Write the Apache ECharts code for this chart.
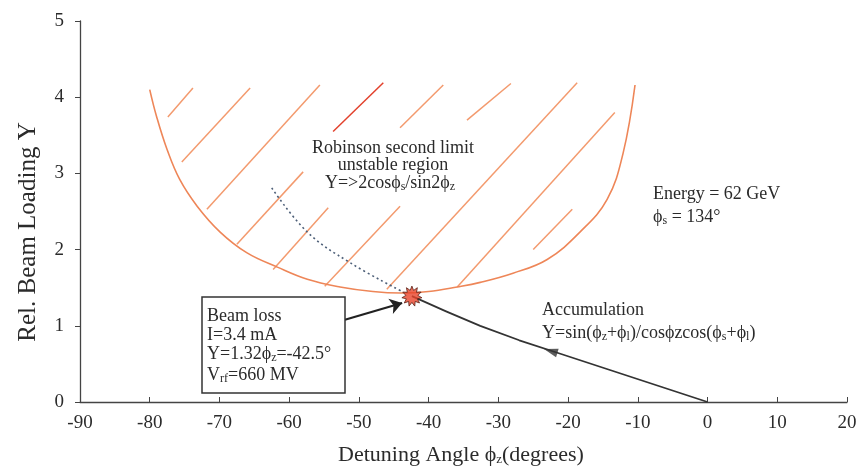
<!DOCTYPE html>
<html><head><meta charset="utf-8">
<script src="https://cdn.jsdelivr.net/npm/echarts@6/dist/echarts.min.js"></script>
<style>html,body{margin:0;padding:0;background:#fff}#c{width:861px;height:468px}</style>
</head><body><div id="c"></div>
<script>
// ---- data ----
const xTickValues = [-90,-80,-70,-60,-50,-40,-30,-20,-10,0,10,20];
const yTickValues = [0,1,2,3,4,5];

// Robinson second limit boundary (orange U curve)
const robinsonLimit = [
  [-80.0,4.10],[-79.0,3.74],[-77.5,3.31],[-75.7,2.92],[-73.2,2.57],[-69.9,2.23],
  [-66.1,1.96],[-61.7,1.77],[-57.4,1.61],[-52.7,1.51],[-48.0,1.45],[-44.0,1.43],
  [-40.0,1.45],[-35.9,1.51],[-32.6,1.57],[-27.9,1.69],[-23.0,1.87],[-18.3,2.23],
  [-14.4,2.66],[-12.1,3.27],[-10.4,4.16]
];
// hatching of the unstable region (segment end points)
const hatchSegments = [
  [[-77.4,3.74],[-73.8,4.12]],
  [[-75.4,3.15],[-65.6,4.12]],
  [[-71.8,2.53],[-55.6,4.16]],
  [[-67.5,2.07],[-58.0,3.02]],
  [[-62.3,1.74],[-54.4,2.55]],
  [[-44.1,3.60],[-37.9,4.16]],
  [[-54.9,1.52],[-44.1,2.57]],
  [[-34.5,3.70],[-28.2,4.18]],
  [[-46.0,1.48],[-18.7,4.19]],
  [[-35.9,1.51],[-13.3,3.80]],
  [[-25.0,2.00],[-19.4,2.53]]
];
const redHatch = [[[-53.7,3.55],[-46.5,4.19]]];
// accumulation path (black)
const accumulation = [
  [-42.4,1.39],[-37.5,1.19],[-32.6,1.00],[-27.0,0.81],[-21.0,0.63],
  [-14.0,0.42],[-7.0,0.21],[0,0]
];
// dotted extension
const extrapolation = [[-62.5,2.81],[-57.4,2.23],[-51.3,1.83],[-44.0,1.46]];
const beamLoss = [[-42.4,1.39]];
const lossArrow = [[[-52.0,1.08],[-43.8,1.30]]];
const flowArrow = [[-22.5,0.67]];

function burst(n, r1, r2){
  let d='';
  for(let i=0;i<2*n;i++){
    const a=i*Math.PI/n, r=(i%2)?r2:r1;
    d+=(i?'L':'M')+(r*Math.sin(a)).toFixed(2)+','+(-r*Math.cos(a)).toFixed(2);
  }
  return 'path://'+d+'Z';
}

const FONT='Liberation Serif';
const ink='#2b2b2b';
const subS={fontFamily:FONT,fontSize:12,fill:ink,padding:[8,0,0,0]};
const chart=echarts.init(document.getElementById('c'));
chart.setOption({
  animation:false,
  backgroundColor:'#fff',
  grid:{left:80,right:14,top:21,bottom:66},
  xAxis:{type:'value',min:-90,max:20,interval:10,
    axisLine:{onZero:false,lineStyle:{color:'#444',width:1.3}},
    axisTick:{inside:true,length:5,lineStyle:{color:'#444'}},
    axisLabel:{fontFamily:FONT,fontSize:19,color:ink,margin:12,
      customValues:xTickValues},
    splitLine:{show:false}},
  yAxis:{type:'value',min:0,max:5,interval:1,
    axisLine:{show:true,onZero:false,lineStyle:{color:'#444',width:1.3}},
    axisTick:{show:true,length:5,lineStyle:{color:'#444'}},
    axisLabel:{fontFamily:FONT,fontSize:19,color:ink,margin:16,customValues:yTickValues},
    splitLine:{show:false}},
  series:[
    {type:'line',data:robinsonLimit,smooth:0.4,symbol:'none',
      lineStyle:{color:'#ee8658',width:1.6},z:3},
    {type:'lines',coordinateSystem:'cartesian2d',
      data:hatchSegments.map(s=>({coords:s})),
      lineStyle:{color:'#f39a6e',width:1.5,opacity:1},z:2},
    {type:'lines',coordinateSystem:'cartesian2d',
      data:redHatch.map(s=>({coords:s})),
      lineStyle:{color:'#e2412c',width:1.5,opacity:1},z:2},
    {type:'line',data:extrapolation,smooth:0.4,symbol:'none',
      lineStyle:{color:'#4d5f78',width:1.6,type:[2,3]},z:3},
    {type:'line',data:accumulation,smooth:false,symbol:'none',
      lineStyle:{color:'#333',width:1.8,join:'round'},z:4},
    {type:'lines',coordinateSystem:'cartesian2d',
      data:lossArrow.map(s=>({coords:s})),
      symbol:['none','arrow'],symbolSize:[0,12],
      lineStyle:{color:'#222',width:2.2,opacity:1},z:5},
    {type:'scatter',data:flowArrow,symbol:'triangle',symbolSize:[9,14],symbolRotate:73,
      itemStyle:{color:'#333'},z:5},
    {type:'scatter',data:beamLoss,symbol:burst(11,10,6),symbolSize:20,
      itemStyle:{color:'#e8432b',borderColor:'#5b2318',borderWidth:1},z:6}
  ],
  graphic:[
    {type:'text',x:28,y:232,rotation:Math.PI/2,
      style:{text:'Rel. Beam Loading Y',fontFamily:FONT,fontSize:25,fill:ink,
        align:'center',verticalAlign:'middle'}},
    {type:'text',x:338,y:455,
      style:{text:'Detuning Angle ϕ{s|z}(degrees)',fontFamily:FONT,fontSize:22,fill:ink,
        align:'left',verticalAlign:'middle',rich:{s:{fontFamily:FONT,fontSize:13,fill:ink,padding:[10,0,0,0]}}}},
    {type:'text',x:393,y:148,
      style:{text:'Robinson second limit',fontFamily:FONT,fontSize:18,fill:ink,align:'center',verticalAlign:'middle'}},
    {type:'text',x:393,y:165,
      style:{text:'unstable region',fontFamily:FONT,fontSize:18,fill:ink,align:'center',verticalAlign:'middle'}},
    {type:'text',x:390,y:183,
      style:{text:'Y=>2cosϕ{s|s}/sin2ϕ{s|z}',fontFamily:FONT,fontSize:18,fill:ink,align:'center',verticalAlign:'middle',rich:{s:subS}}},
    {type:'text',x:653,y:194,
      style:{text:'Energy = 62 GeV',fontFamily:FONT,fontSize:18,fill:ink,align:'left',verticalAlign:'middle'}},
    {type:'text',x:653,y:217,
      style:{text:'ϕ{s|s} = 134°',fontFamily:FONT,fontSize:18,fill:ink,align:'left',verticalAlign:'middle',rich:{s:subS}}},
    {type:'text',x:542,y:310,
      style:{text:'Accumulation',fontFamily:FONT,fontSize:18,fill:ink,align:'left',verticalAlign:'middle'}},
    {type:'text',x:542,y:333,
      style:{text:'Y=sin(ϕ{s|z}+ϕ{s|l})/cosϕzcos(ϕ{s|s}+ϕ{s|l})',fontFamily:FONT,fontSize:18,fill:ink,align:'left',verticalAlign:'middle',rich:{s:subS}}},
    {type:'rect',shape:{x:202,y:297,width:143,height:96},
      style:{fill:'#fff',stroke:'#333',lineWidth:1.5},z:10},
    {type:'text',x:207,y:316,z:11,
      style:{text:'Beam loss',fontFamily:FONT,fontSize:18,fill:ink,align:'left',verticalAlign:'middle'}},
    {type:'text',x:207,y:335,z:11,
      style:{text:'I=3.4 mA',fontFamily:FONT,fontSize:18,fill:ink,align:'left',verticalAlign:'middle'}},
    {type:'text',x:207,y:354,z:11,
      style:{text:'Y=1.32ϕ{s|z}=-42.5°',fontFamily:FONT,fontSize:18,fill:ink,align:'left',verticalAlign:'middle',rich:{s:subS}}},
    {type:'text',x:207,y:375,z:11,
      style:{text:'V{s|rf}=660 MV',fontFamily:FONT,fontSize:18,fill:ink,align:'left',verticalAlign:'middle',rich:{s:subS}}}
  ]
});
</script></body></html>
